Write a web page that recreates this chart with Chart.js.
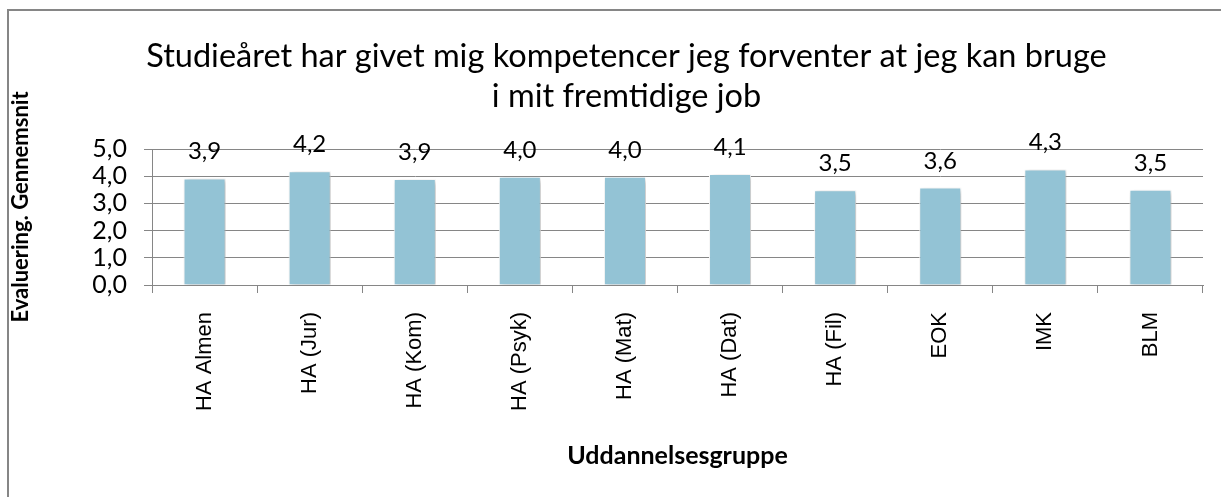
<!DOCTYPE html>
<html><head><meta charset="utf-8">
<script src="https://cdn.jsdelivr.net/npm/chart.js@4.4.1/dist/chart.umd.min.js"></script>
<style>html,body{margin:0;padding:0;background:#fff;}canvas{display:block;}</style>
</head><body>
<canvas id="c" width="1221" height="497"></canvas>
<script>
const categories = ['HA Almen','HA (Jur)','HA (Kom)','HA (Psyk)','HA (Mat)','HA (Dat)','HA (Fil)','EOK','IMK','BLM'];
const values = [3.92, 4.18, 3.90, 3.98, 3.98, 4.08, 3.48, 3.58, 4.25, 3.50];
const yTicks = [0, 1, 2, 3, 4, 5];
const titleLines = ['Studieåret har givet mig kompetencer jeg forventer at jeg kan bruge', 'i mit fremtidige job'];
const yTitle = 'Evaluering. Gennemsnit';
const xTitle = 'Uddannelsesgruppe';

const fmt = v => Number(v).toFixed(1).replace('.', ',');
const GRAY = '#868686';
const CAL = 'Lato, Carlito, Calibri, sans-serif';

const decor = {
  id: 'decor',
  beforeDraw(chart) {
    const ctx = chart.ctx;
    ctx.save();
    ctx.fillStyle = '#fff';
    ctx.fillRect(0, 0, chart.width, chart.height);
    ctx.strokeStyle = GRAY;
    ctx.lineWidth = 2;
    ctx.beginPath();
    ctx.moveTo(8, chart.height + 5);
    ctx.lineTo(8, 10);
    ctx.lineTo(chart.width + 5, 10);
    ctx.stroke();
    ctx.restore();
  },
  afterDraw(chart) {
    const ctx = chart.ctx;
    const ca = chart.chartArea;
    ctx.save();
    ctx.fillStyle = '#000';
    // title
    ctx.font = '32.5px ' + CAL;
    ctx.textAlign = 'center';
    ctx.textBaseline = 'middle';
    ctx.fillText(titleLines[0], 626.5, 57);
    ctx.fillText(titleLines[1], 626.5, 97);
    // x title
    ctx.font = 'bold 25px ' + CAL;
    ctx.fillText(xTitle, (ca.left + ca.right) / 2, 456);
    // y title
    ctx.font = 'bold 22px ' + CAL;
    ctx.save();
    ctx.translate(21, 207);
    ctx.rotate(-Math.PI / 2);
    ctx.fillText(yTitle, 0, 0);
    ctx.restore();
    // data labels
    ctx.font = '24px ' + CAL;
    ctx.textBaseline = 'alphabetic';
    const meta = chart.getDatasetMeta(0);
    meta.data.forEach((bar, i) => {
      ctx.fillText(fmt(values[i]), bar.x, bar.y - 19);
    });
    ctx.restore();
  }
};

const shadow = {
  id: 'shadow',
  beforeDatasetsDraw(chart) {
    const ctx = chart.ctx;
    ctx.save();
    ctx.shadowColor = 'rgba(0,0,0,0.3)';
    ctx.shadowBlur = 5;
    ctx.shadowOffsetX = 2;
    ctx.shadowOffsetY = 2;
  },
  afterDatasetsDraw(chart) {
    chart.ctx.restore();
  }
};

new Chart(document.getElementById('c'), {
  type: 'bar',
  data: {
    labels: categories,
    datasets: [{
      data: values,
      backgroundColor: '#93C3D5',
      borderColor: '#ffffff',
      borderWidth: 1,
      barPercentage: 0.4,
      categoryPercentage: 1.0,
      clip: false
    }]
  },
  options: {
    responsive: false,
    animation: false,
    devicePixelRatio: 1,
    layout: { padding: { left: 0, top: 149, right: 18, bottom: 62 } },
    plugins: { legend: { display: false }, title: { display: false }, tooltip: { enabled: false } },
    scales: {
      x: {
        grid: { offset: true, drawOnChartArea: false, drawTicks: true, tickLength: 8, color: GRAY, lineWidth: 1 },
        border: { display: true, color: GRAY, width: 1 },
        ticks: { autoSkip: false, maxRotation: 90, minRotation: 90, padding: 19, color: '#000', font: { family: 'Liberation Sans, Arial, sans-serif', size: 22 } },
        afterFit(s) { s.height = 150; }
      },
      y: {
        min: 0, max: 5,
        afterBuildTicks(s) { s.ticks = yTicks.map(v => ({ value: v })); },
        grid: { color: GRAY, tickLength: 8, lineWidth: 1 },
        border: { display: true, color: GRAY, width: 1 },
        ticks: { autoSkip: false, padding: 17, color: '#000', font: { family: CAL, size: 25 }, callback: v => fmt(v) },
        afterFit(s) { s.width = 152; }
      }
    }
  },
  plugins: [decor, shadow]
});
</script>
</body></html>
